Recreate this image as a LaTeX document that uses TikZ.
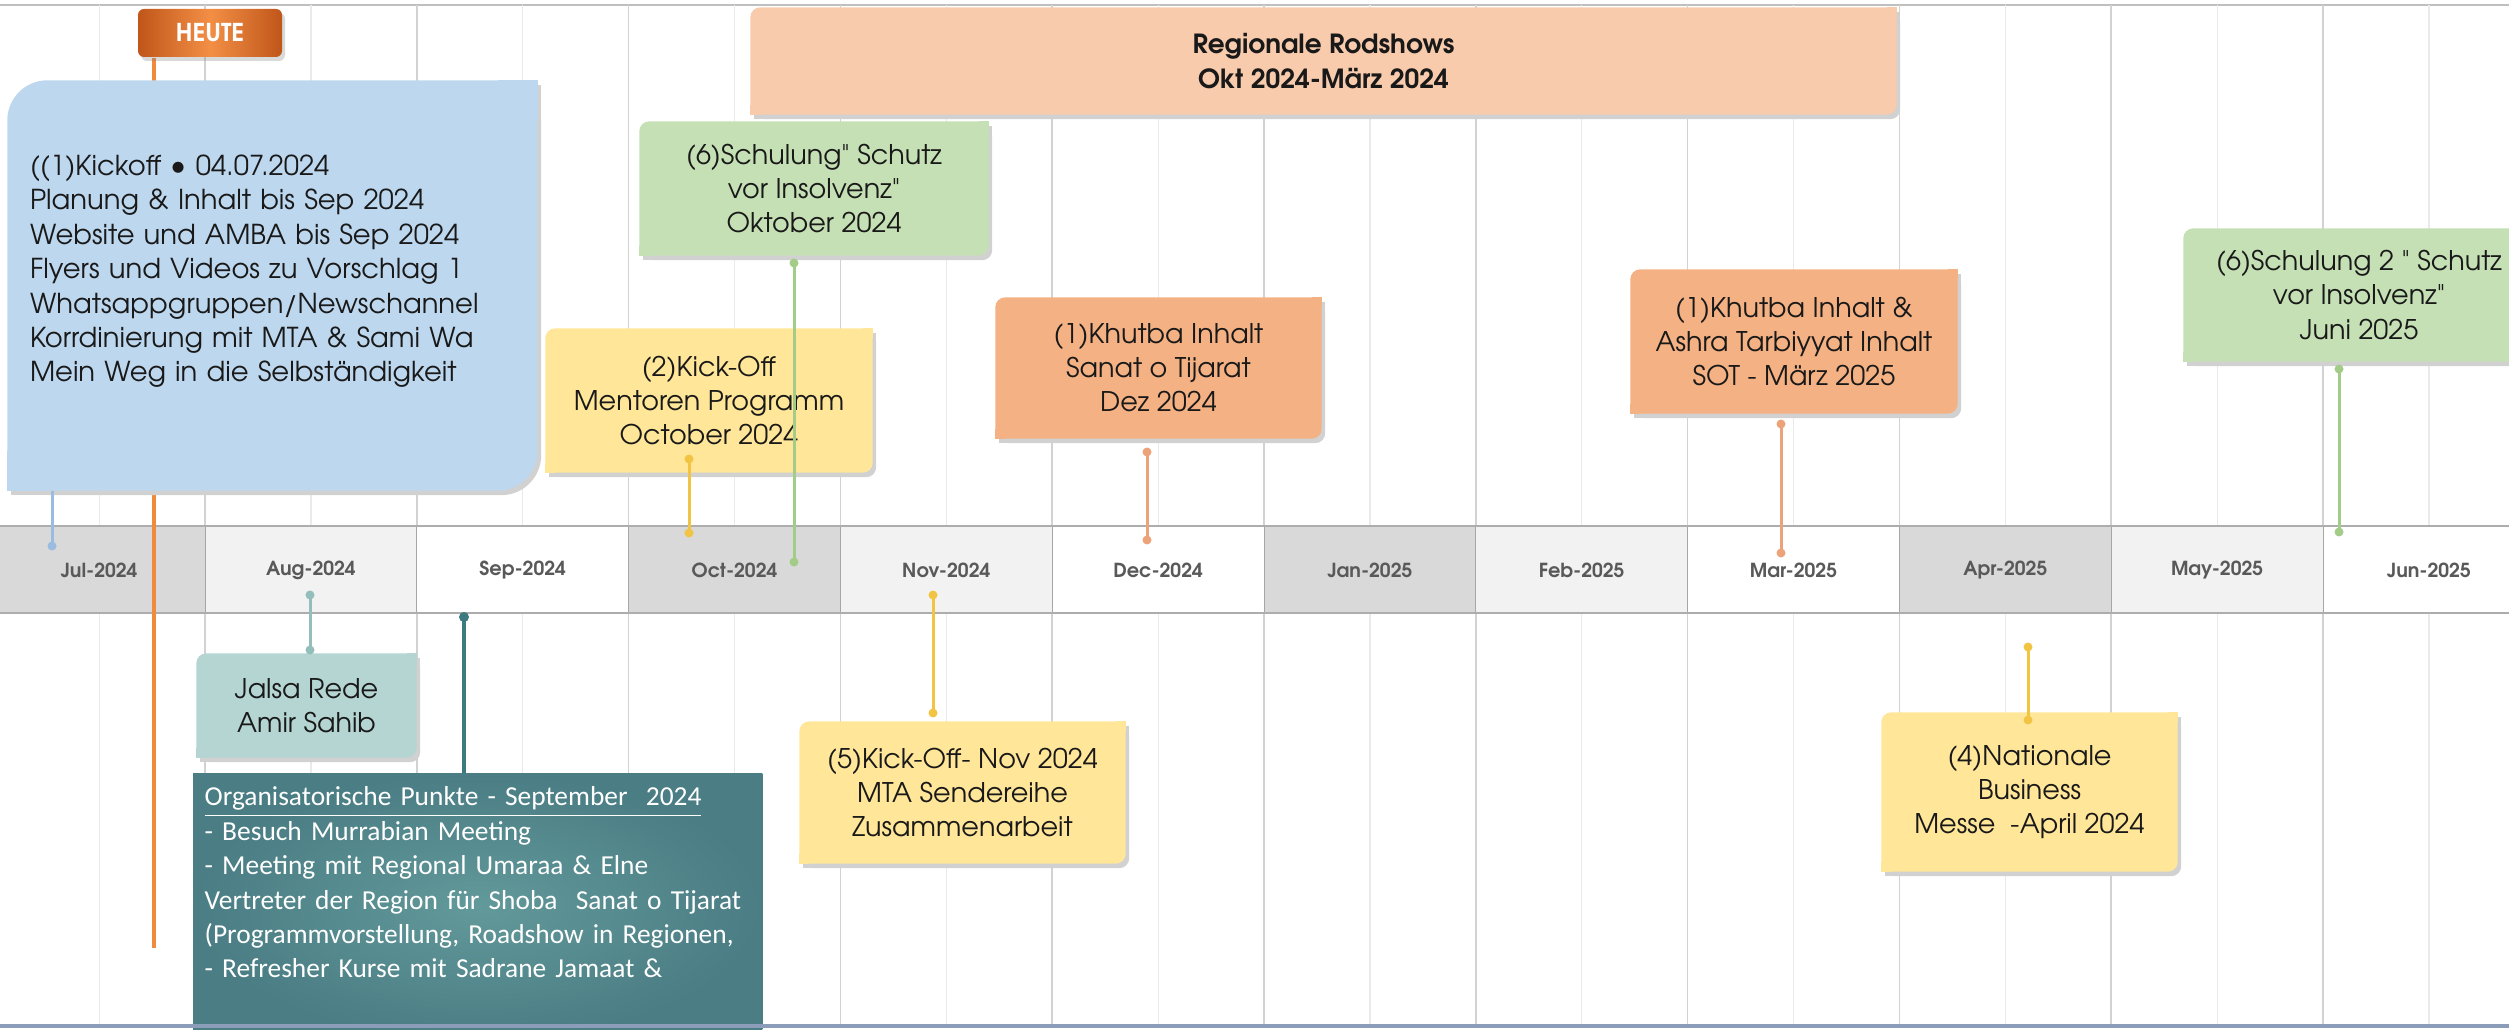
\documentclass[tikz,border=0pt]{standalone}
\usepackage{fontspec}
\setmainfont[Ligatures=TeXOff]{TeX Gyre Adventor}
\newfontfamily\calibri{Carlito}
\usetikzlibrary{shadows}

\pgfdeclarelayer{grid}
\pgfdeclarelayer{cards}
\pgfsetlayers{grid,cards,main}

\definecolor{bandDk}{HTML}{D9D9D9}
\definecolor{bandLt}{HTML}{F2F2F2}
\definecolor{gridMaj}{HTML}{D2D2D2}
\definecolor{gridMin}{HTML}{EAEAEA}
\definecolor{kickBlue}{HTML}{BDD7EE}
\definecolor{kickLine}{HTML}{9ABCE0}
\definecolor{roadPeach}{HTML}{F8CBAD}
\definecolor{schulGreen}{HTML}{C5E0B4}
\definecolor{schulLine}{HTML}{A3CC88}
\definecolor{evtYellow}{HTML}{FFE699}
\definecolor{evtYellowLine}{HTML}{F2C443}
\definecolor{khutbaOrange}{HTML}{F4B183}
\definecolor{khutbaLine}{HTML}{EDA37A}
\definecolor{jalsaTeal}{HTML}{B4D5D2}
\definecolor{jalsaLine}{HTML}{93BEBB}
\definecolor{orgaDk}{HTML}{4A7D84}
\definecolor{orgaLt}{HTML}{62999A}
\definecolor{orgaLine}{HTML}{3C7A80}
\definecolor{heuteDk}{HTML}{C0561A}
\definecolor{heuteLt}{HTML}{F28F45}
\definecolor{heuteLine}{HTML}{EF8A3E}
\definecolor{monthText}{HTML}{595959}
\definecolor{baseLine}{HTML}{8B9DB9}

\newcommand{\evtfont}{\fontsize{7.7}{9.7}\selectfont}

% card background: rounded top-left and bottom-right corners
\newcommand{\cardpath}[5]{% node, radius, dx, dy, colour
  \fill[#5, rounded corners=#2] ([xshift=#3,yshift=#4]#1.south west) rectangle ([xshift=#3,yshift=#4]#1.north east);
  \fill[#5] ([xshift=#3,yshift=#4]#1.north east) rectangle ([xshift=#3-#2,yshift=#4-#2]#1.north east);
  \fill[#5] ([xshift=#3,yshift=#4]#1.south west) rectangle ([xshift=#3+#2,yshift=#4+#2]#1.south west);
}
\newcommand{\cardfill}[3]{% node, colour, radius
  \cardpath{#1}{#3}{0.35mm}{-0.45mm}{black!18}
  \cardpath{#1}{#3}{0mm}{0mm}{#2}
}

\begin{document}
\begin{tikzpicture}[x=0.1mm, y=-0.1mm,
    evt/.style={inner sep=0pt, align=center, font=\evtfont, text=black!90},
    month/.style={font=\bfseries\fontsize{5.5}{6}\selectfont, text=monthText},
    stem/.style={line width=0.3mm, draw=#1},
    gridmajor/.style={draw=gridMaj, line width=0.15mm},
    gridminor/.style={draw=gridMin, line width=0.12mm}]
    \useasboundingbox (0,0) rectangle (2509,1030);
    \clip (0,0) rectangle (2509,1030);

    % Raster
    \begin{pgfonlayer}{grid}
        \draw[black!25, line width=0.25mm] (0,5) -- (2509,5);
        \foreach \i in {0,...,11}{
            \pgfmathsetmacro\xa{-6.8+211.8*\i}
            \draw[gridmajor] (\xa,5) -- (\xa,1026);
            \draw[gridminor] (\xa+105.9,5) -- (\xa+105.9,1026);
        }
    \end{pgfonlayer}

    % Monatsleiste
    \foreach \lab/\tone [count=\i from 0] in {Jul-2024/bandDk, Aug-2024/bandLt, Sep-2024/white,
        Oct-2024/bandDk, Nov-2024/bandLt, Dec-2024/white, Jan-2025/bandDk, Feb-2025/bandLt,
        Mar-2025/white, Apr-2025/bandDk, May-2025/bandLt, Jun-2025/white}{
        \pgfmathsetmacro\xa{-6.8+211.8*\i}
        \begin{pgfonlayer}{grid}
            \fill[\tone] (\xa,526) rectangle ++(211.8,87);
            \draw[black!35, line width=0.1mm] (\xa,526) -- (\xa,613);
        \end{pgfonlayer}
        \node[month] (m\i) at (\xa+105.9,570) {\lab};
    }
    \begin{pgfonlayer}{grid}
        \draw[black!32, line width=0.25mm] (0,526) -- (2509,526) (0,613) -- (2509,613);
    \end{pgfonlayer}

    % Heute-Marke
    \node[left color=heuteDk, right color=heuteDk, middle color=heuteLt, rounded corners=0.6mm,
        minimum width=14.4mm, minimum height=4.8mm, inner sep=0pt, text=white,
        font=\bfseries\fontsize{7}{8}\selectfont,
        drop shadow={shadow xshift=0.3mm, shadow yshift=-0.4mm, opacity=0.3}] (heute) at (210,33) {HEUTE};

    % Ereignisse oben
    \node[evt, align=left, text width=48.5mm, minimum width=52.9mm, minimum height=40.9mm,
        font=\fontsize{7.8}{9.8}\selectfont] (kickoff) at (272.5,285.5)
        {((1)Kickoff\ {\fontsize{8.8}{9.8}\selectfont•}\ 04.07.2024\\Planung \& Inhalt bis Sep 2024\\Website und AMBA bis Sep 2024\\
         Flyers und Videos zu Vorschlag 1\\Whatsappgruppen/Newschannel\\Korrdinierung mit MTA \& Sami Wa\\
         Mein Weg in die Selbständigkeit\\\mbox{}};
    \node[evt, font=\bfseries\fontsize{7.5}{9.8}\selectfont, minimum width=114.5mm, minimum height=10.6mm]
        (roadshow) at (1323.5,61) {Regionale Rodshows\\Okt 2024-März 2024};
    \node[evt, minimum width=34.8mm, minimum height=13.3mm] (schulung) at (814,188.5)
        {(6)Schulung" Schutz\\vor Insolvenz"\\Oktober 2024};
    \node[evt, minimum width=32.6mm, minimum height=14.3mm] (mentor) at (709,400.5)
        {(2)Kick-Off\\Mentoren Programm\\October 2024};
    \node[evt, minimum width=32.5mm, minimum height=14mm] (khutba) at (1158.5,368)
        {(1)Khutba Inhalt\\Sanat o Tijarat\\Dez 2024};
    \node[evt, minimum width=32.6mm, minimum height=14.3mm] (ashra) at (1794,341.5)
        {(1)Khutba Inhalt \&\\Ashra Tarbiyyat Inhalt\\SOT - März 2025};
    \node[evt, minimum width=35mm, minimum height=13.2mm] (schulung2) at (2359,295)
        {(6)Schulung 2 " Schutz\\vor Insolvenz"\\Juni 2025};

    % Ereignisse unten
    \node[evt, minimum width=21.9mm, minimum height=10.3mm] (jalsa) at (306.5,705.5)
        {Jalsa Rede\\Amir Sahib};
    \node[anchor=north west, align=left, text width=54.6mm, inner xsep=1.1mm, inner ysep=1.3mm,
        font=\calibri\fontsize{7.8}{9.8}\selectfont, text=white] (orga) at (193,773)
        {\underline{Organisatorische Punkte - September\ \ 2024}\\- Besuch Murrabian Meeting\\
         - Meeting mit Regional Umaraa \& Elne\\Vertreter der Region für Shoba\ \ Sanat o Tijarat\\
         (Programmvorstellung, Roadshow in Regionen,\\- Refresher Kurse mit Sadrane Jamaat \&};
    \node[evt, minimum width=32.5mm, minimum height=14.1mm] (sender) at (962.5,792.5)
        {(5)Kick-Off- Nov 2024\\MTA Sendereihe\\Zusammenarbeit};
    \node[evt, minimum width=29.5mm, minimum height=15.8mm] (messe) at (2029.5,792)
        {(4)Nationale\\Business\\Messe\ \ -April 2024};

    % Hintergruende der Karten
    \coordinate (base) at (0,1040);
    \begin{pgfonlayer}{cards}
        \cardfill{kickoff}{kickBlue}{4mm}
        \cardfill{roadshow}{roadPeach}{1mm}
        \cardfill{schulung}{schulGreen}{1mm}
        \cardfill{mentor}{evtYellow}{1mm}
        \cardfill{khutba}{khutbaOrange}{1mm}
        \cardfill{ashra}{khutbaOrange}{1mm}
        \cardfill{schulung2}{schulGreen}{1mm}
        \cardfill{jalsa}{jalsaTeal}{1mm}
        \cardfill{sender}{evtYellow}{1mm}
        \cardfill{messe}{evtYellow}{1mm}
        \shade[inner color=orgaLt, outer color=orgaDk] (orga.north west) rectangle (orga.east |- base);
    \end{pgfonlayer}

    % Heute-Linie
    \coordinate (heuteend) at (154,948);
    \begin{pgfonlayer}{grid}
        \draw[heuteLine, line width=0.45mm] (heute.south -| heuteend) -- (heuteend);
    \end{pgfonlayer}

    % Verbinder
    \coordinate (kickoffdot) at (52,546);
    \draw[stem=kickLine] (kickoff.south -| kickoffdot) -- (kickoffdot);
    \fill[kickLine] (kickoffdot) circle (0.45mm);

    \coordinate (schulungA) at (794,263);
    \coordinate (schulungB) at (794,562);
    \draw[stem=schulLine] (schulungA) -- (schulungB);
    \fill[schulLine] (schulungA) circle (0.45mm) (schulungB) circle (0.45mm);

    \coordinate (mentorA) at (689,459);
    \coordinate (mentorB) at (689,533);
    \draw[stem=evtYellowLine] (mentorA) -- (mentorB);
    \fill[evtYellowLine] (mentorA) circle (0.45mm) (mentorB) circle (0.45mm);

    \coordinate (khutbaA) at (1147,452);
    \coordinate (khutbaB) at (1147,540);
    \draw[stem=khutbaLine] (khutbaA) -- (khutbaB);
    \fill[khutbaLine] (khutbaA) circle (0.45mm) (khutbaB) circle (0.45mm);

    \coordinate (ashraA) at (1781,424);
    \coordinate (ashraB) at (1781,553);
    \draw[stem=khutbaLine] (ashraA) -- (ashraB);
    \fill[khutbaLine] (ashraA) circle (0.45mm) (ashraB) circle (0.45mm);

    \coordinate (schulung2A) at (2339,369);
    \coordinate (schulung2B) at (2339,532);
    \draw[stem=schulLine] (schulung2A) -- (schulung2B);
    \fill[schulLine] (schulung2A) circle (0.45mm) (schulung2B) circle (0.45mm);

    \coordinate (jalsaA) at (310,595);
    \coordinate (jalsaB) at (310,650);
    \draw[stem=jalsaLine] (jalsaA) -- (jalsaB);
    \fill[jalsaLine] (jalsaA) circle (0.45mm) (jalsaB) circle (0.45mm);

    \coordinate (orgadot) at (464,617);
    \draw[stem=orgaLine, line width=0.4mm] (orgadot) -- (orga.north -| orgadot);
    \fill[orgaLine] (orgadot) circle (0.5mm);

    \coordinate (senderA) at (933,595);
    \coordinate (senderB) at (933,713);
    \draw[stem=evtYellowLine] (senderA) -- (senderB);
    \fill[evtYellowLine] (senderA) circle (0.45mm) (senderB) circle (0.45mm);

    \coordinate (messeA) at (2028,647);
    \coordinate (messeB) at (2028,720);
    \draw[stem=evtYellowLine] (messeA) -- (messeB);
    \fill[evtYellowLine] (messeA) circle (0.45mm) (messeB) circle (0.45mm);

    % Grundlinie
    \draw[baseLine, line width=0.45mm] (0,1026) -- (2509,1026);
\end{tikzpicture}
\end{document}
